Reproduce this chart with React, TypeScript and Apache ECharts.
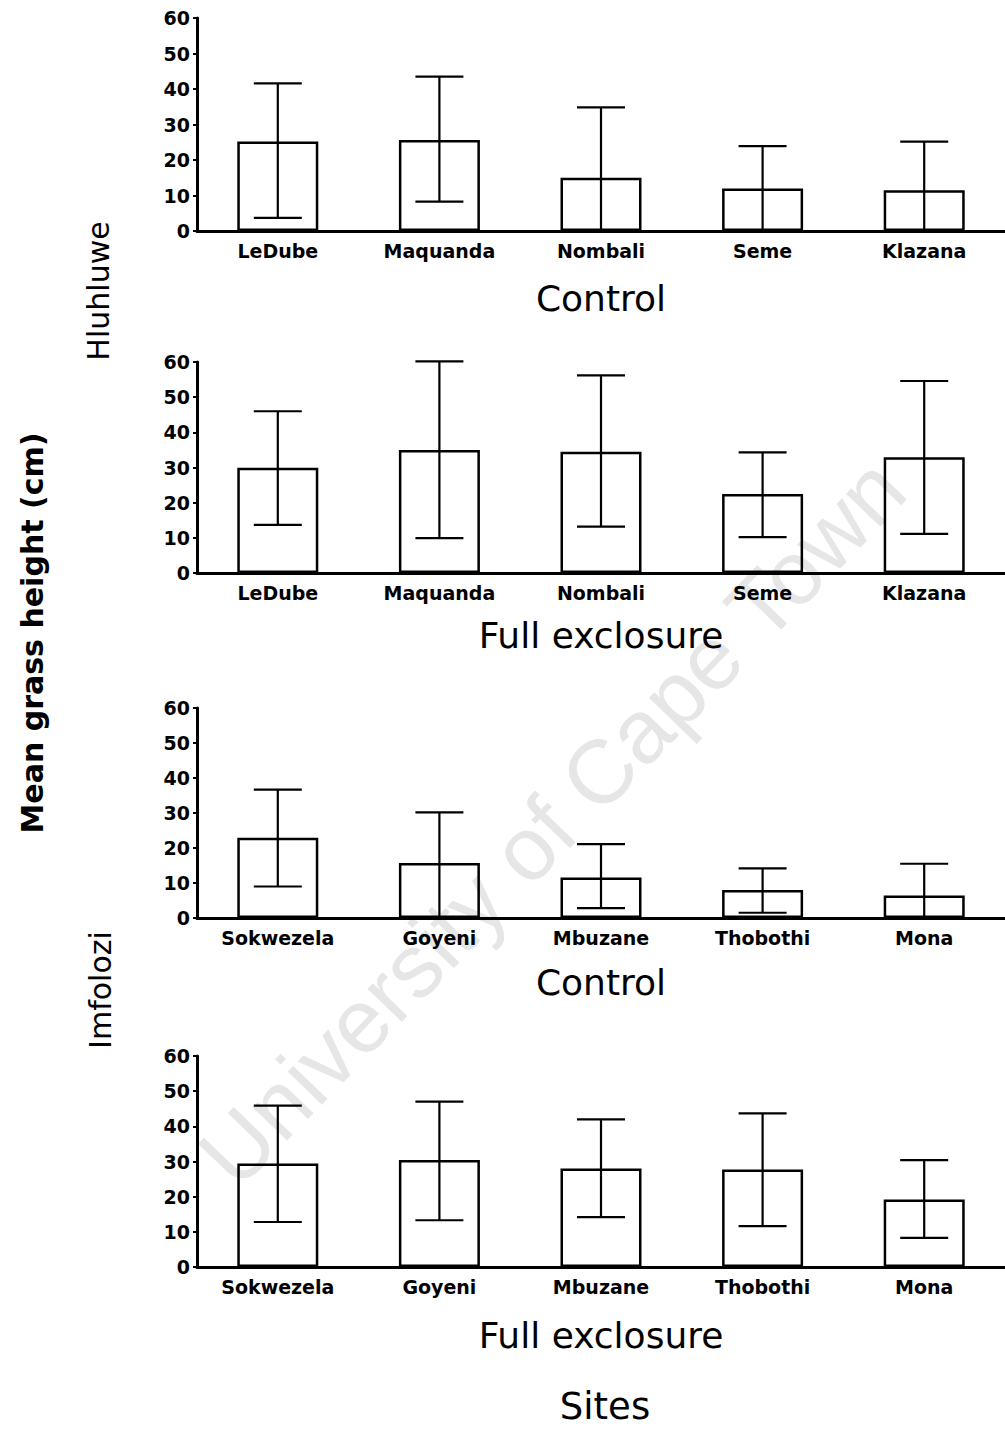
import React, { useEffect, useRef } from "react";
import * as echarts from "echarts";

// ---- data ----
const hluhluweSites = ["LeDube", "Maquanda", "Nombali", "Seme", "Klazana"];
const imfoloziSites = ["Sokwezela", "Goyeni", "Mbuzane", "Thobothi", "Mona"];

const hControlMean = [25.2, 25.6, 15.0, 12.0, 11.5];
const hControlLow = [3.7, 8.3, 0, 0, 0];
const hControlHigh = [41.6, 43.5, 34.8, 23.9, 25.2];

const hFullMean = [29.9, 35.0, 34.5, 22.5, 32.9];
const hFullLow = [13.7, 9.9, 13.2, 10.2, 11.1];
const hFullHigh = [46.0, 60.2, 56.2, 34.3, 54.6];

const iControlMean = [22.9, 15.7, 11.6, 8.0, 6.4];
const iControlLow = [9.0, 0, 2.8, 1.5, 0];
const iControlHigh = [36.7, 30.2, 21.1, 14.2, 15.5];

const iFullMean = [29.4, 30.4, 28.0, 27.7, 19.2];
const iFullLow = [12.8, 13.3, 14.2, 11.6, 8.3];
const iFullHigh = [45.9, 47.0, 42.0, 43.7, 30.4];

const panelTitles = ["Control", "Full exclosure", "Control", "Full exclosure"];
const yMin = 0;
const yMax = 60;
const yStep = 10;

const panels = [
  { cats: hluhluweSites, mean: hControlMean, low: hControlLow, high: hControlHigh },
  { cats: hluhluweSites, mean: hFullMean, low: hFullLow, high: hFullHigh },
  { cats: imfoloziSites, mean: iControlMean, low: iControlLow, high: iControlHigh },
  { cats: imfoloziSites, mean: iFullMean, low: iFullLow, high: iFullHigh },
];

// ---- layout ----
const gridTops = [18, 362, 708, 1056];
const gridHeights = [213, 211, 210, 211];
const titleYs = [298, 635, 982, 1335];
const FONT = "DejaVu Sans";

export default function App() {
  const ref = useRef<HTMLDivElement>(null);

  useEffect(() => {
    if (!ref.current) return;
    const chart = echarts.init(ref.current, null, { renderer: "svg" });

    const grids = panels.map((_, i) => ({
      left: 197,
      top: gridTops[i],
      width: 815,
      height: gridHeights[i],
      containLabel: false,
    }));

    const xAxes = panels.map((p, i) => ({
      type: "category",
      gridIndex: i,
      data: p.cats,
      axisLine: { lineStyle: { color: "#000", width: 3 } },
      axisTick: { show: false },
      axisLabel: {
        color: "#000",
        fontFamily: FONT,
        fontWeight: "bold",
        fontSize: 19,
        margin: 10,
        interval: 0,
      },
    }));

    const yAxes = panels.map((_, i) => ({
      type: "value",
      gridIndex: i,
      min: yMin,
      max: yMax,
      interval: yStep,
      splitLine: { show: false },
      axisLine: { show: true, lineStyle: { color: "#000", width: 3 } },
      axisTick: { show: true, length: 4, lineStyle: { color: "#000", width: 2 } },
      axisLabel: {
        color: "#000",
        fontFamily: FONT,
        fontWeight: "bold",
        fontSize: 19,
        margin: 7,
      },
    }));

    const series: any[] = [];
    panels.forEach((p, i) => {
      series.push({
        type: "bar",
        xAxisIndex: i,
        yAxisIndex: i,
        data: p.mean,
        barWidth: 81,
        itemStyle: { color: "rgba(255,255,255,0)", borderColor: "#000", borderWidth: 2.5 },
        z: 3,
      });
      series.push({
        type: "custom",
        xAxisIndex: i,
        yAxisIndex: i,
        data: p.mean.map((_, k) => [k, p.low[k], p.high[k]]),
        encode: { x: 0, y: [1, 2] },
        z: 4,
        clip: false,
        renderItem: (params: any, api: any) => {
          const x = api.value(0);
          const lo = api.coord([x, api.value(1)]);
          const hi = api.coord([x, api.value(2)]);
          const hw = 24;
          const st = { stroke: "#000", lineWidth: 2.2 };
          return {
            type: "group",
            children: [
              { type: "line", shape: { x1: hi[0], y1: hi[1], x2: lo[0], y2: lo[1] }, style: st },
              { type: "line", shape: { x1: hi[0] - hw, y1: hi[1], x2: hi[0] + hw, y2: hi[1] }, style: st },
              { type: "line", shape: { x1: lo[0] - hw, y1: lo[1], x2: lo[0] + hw, y2: lo[1] }, style: st },
            ],
          };
        },
      });
    });

    const txt = (text: string, x: number, y: number, size: number, opts: any = {}) => ({
      type: "text",
      x,
      y,
      rotation: opts.rotation || 0,
      z: opts.z ?? 10,
      style: {
        text,
        fill: opts.fill || "#000",
        fontSize: size,
        fontFamily: opts.family || FONT,
        fontWeight: opts.weight || "normal",
        textAlign: "center",
        textVerticalAlign: "middle",
      },
    });

    const graphics: any[] = [
      txt("University of Cape Town", 552, 822, 90, {
        rotation: (46 * Math.PI) / 180,
        fill: "#e6e6e6",
        family: "Liberation Sans",
        z: -10,
      }),
      ...panelTitles.map((t, i) => txt(t, 601, titleYs[i], 36)),
      txt("Sites", 605, 1406, 37),
      txt("Hluhluwe", 98, 291, 30, { rotation: Math.PI / 2 }),
      txt("Imfolozi", 100, 990, 30, { rotation: Math.PI / 2 }),
      txt("Mean grass height (cm)", 32, 633, 30, { rotation: Math.PI / 2, weight: "bold" }),
    ];

    chart.setOption({
      animation: false,
      backgroundColor: "#fff",
      grid: grids,
      xAxis: xAxes,
      yAxis: yAxes,
      series,
      graphic: graphics,
    });

    return () => chart.dispose();
  }, []);

  return (
    <div
      ref={ref}
      style={{ position: "absolute", left: 0, top: 0, width: 1005, height: 1430, background: "#fff" }}
    />
  );
}
